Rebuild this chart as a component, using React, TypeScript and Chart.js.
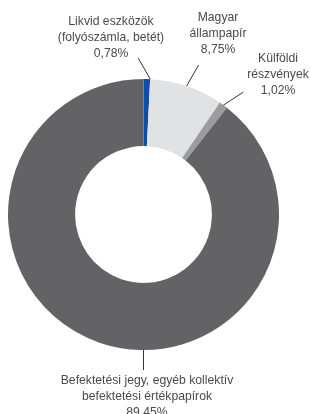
import React, { useEffect, useRef } from "react";
import { Chart, registerables } from "chart.js";

Chart.register(...registerables);

const categories = [
  "Likvid eszközök (folyószámla, betét)",
  "Magyar állampapír",
  "Külföldi részvények",
  "Befektetési jegy, egyéb kollektív befektetési értékpapírok",
];
const values = [0.78, 8.75, 1.02, 89.45];
const valueLabels = ["0,78%", "8,75%", "1,02%", "89,45%"];
const labelLines = [
  ["Likvid eszközök", "(folyószámla, betét)"],
  ["Magyar", "állampapír"],
  ["Külföldi", "részvények"],
  ["Befektetési jegy, egyéb kollektív", "befektetési értékpapírok"],
];
const colors = ["#0b4fa6", "#e1e2e4", "#9b9c9e", "#636365"];

// label layout: [angle override (null = arc middle), line dx, line dy, text cx, text first-line cy]
const labelLayout: Array<[number | null, number, number, number, number]> = [
  [0.05, -12, -21, 111, 22],
  [null, 12, -21, 218, 18],
  [null, 20, -13, 278, 59],
  [Math.PI, 0, 20, 147, 381],
];

const labelPlugin = {
  id: "outerLabels",
  afterDraw(chart: any) {
    const ctx = chart.ctx;
    const meta = chart.getDatasetMeta(0);
    ctx.save();
    meta.data.forEach((arc: any, i: number) => {
      const [ang, dx, dy, tx, ty] = labelLayout[i];
      const mid = ang !== null ? ang - Math.PI / 2 : (arc.startAngle + arc.endAngle) / 2;
      const r = arc.outerRadius;
      const sx = arc.x + Math.cos(mid) * r;
      const sy = arc.y + Math.sin(mid) * r;
      ctx.strokeStyle = "#333";
      ctx.lineWidth = 1;
      ctx.beginPath();
      ctx.moveTo(sx, sy);
      ctx.lineTo(sx + dx, sy + dy);
      ctx.stroke();
      ctx.fillStyle = "#4a4a4a";
      ctx.font = "12.2px 'Liberation Sans', Arial, sans-serif";
      ctx.textAlign = "center";
      ctx.textBaseline = "middle";
      const lines = [...labelLines[i], valueLabels[i]];
      lines.forEach((t, k) => ctx.fillText(t, tx, ty + k * 16));
    });
    ctx.restore();
  },
};

export default function App() {
  const ref = useRef<HTMLCanvasElement>(null);
  useEffect(() => {
    if (!ref.current) return;
    const chart = new Chart(ref.current, {
      type: "doughnut",
      data: {
        labels: categories,
        datasets: [
          {
            data: values,
            backgroundColor: colors,
            borderWidth: 0,
          },
        ],
      },
      options: {
        responsive: false,
        animation: false,
        cutout: "50.5%",
        layout: { padding: { left: 8, right: 32, top: 79, bottom: 64 } },
        plugins: { legend: { display: false }, tooltip: { enabled: false } },
      },
      plugins: [labelPlugin],
    });
    return () => chart.destroy();
  }, []);
  return (
    <div style={{ position: "absolute", left: 0, top: 0, width: 311, height: 414, background: "#fff" }}>
      <canvas ref={ref} width={311} height={414} style={{ width: 311, height: 414 }} />
    </div>
  );
}
